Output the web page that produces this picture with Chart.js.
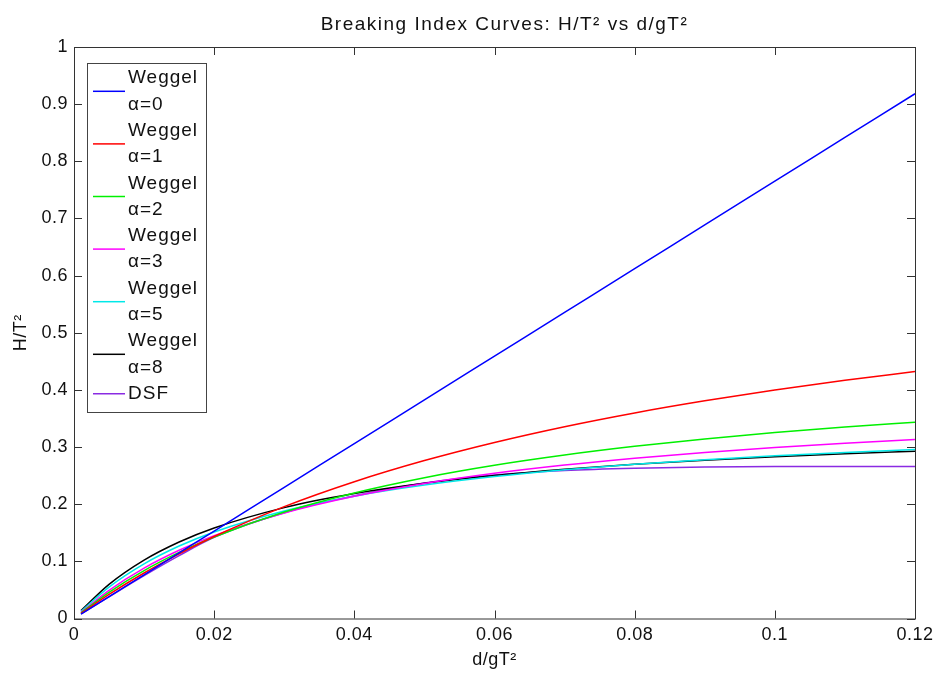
<!DOCTYPE html>
<html>
<head>
<meta charset="utf-8">
<script src="https://cdn.jsdelivr.net/npm/chart.js@4/dist/chart.umd.min.js"></script>
<style>
  html, body { margin: 0; padding: 0; background: #fff; }
  #wrap { width: 940px; height: 681px; }
</style>
</head>
<body>
<div id="wrap"><canvas id="breakChart" width="940" height="681"></canvas></div>
<script>
// data
const depth = [0.001, 0.005, 0.01, 0.015, 0.02, 0.03, 0.04, 0.05, 0.06, 0.07, 0.08, 0.09, 0.10, 0.11, 0.12];

const weggel0 = [0.0077, 0.0383, 0.0765, 0.1148, 0.153, 0.2296, 0.306, 0.3826, 0.4591, 0.5356, 0.6121, 0.6887, 0.7652, 0.8417, 0.9182];
const weggel1 = [0.0088, 0.0421, 0.0796, 0.1131, 0.1434, 0.1957, 0.2393, 0.2763, 0.308, 0.3356, 0.3597, 0.3809, 0.3999, 0.4168, 0.4321];
const weggel2 = [0.0100, 0.0459, 0.0838, 0.1156, 0.1426, 0.1862, 0.2197, 0.2464, 0.2681, 0.286, 0.3012, 0.3141, 0.3253, 0.335, 0.3436];
const weggel3 = [0.0110, 0.0494, 0.0882, 0.1194, 0.145, 0.1846, 0.2139, 0.2363, 0.2541, 0.2685, 0.2805, 0.2905, 0.2991, 0.3065, 0.313];
const weggel5 = [0.0125, 0.055, 0.0956, 0.1268, 0.1515, 0.1882, 0.2141, 0.2334, 0.2483, 0.2602, 0.2699, 0.2779, 0.2847, 0.2905, 0.2955];
const weggel8 = [0.0138, 0.0597, 0.1021, 0.1338, 0.1584, 0.194, 0.2186, 0.2366, 0.2503, 0.2612, 0.2699, 0.2771, 0.2832, 0.2884, 0.2928];
const dsf     = [0.008, 0.038, 0.075, 0.11, 0.142, 0.185, 0.215, 0.237, 0.251, 0.259, 0.263, 0.265, 0.266, 0.266, 0.266];

const labels = ["Weggel\nα=0", "Weggel\nα=1", "Weggel\nα=2", "Weggel\nα=3", "Weggel\nα=5", "Weggel\nα=8", "DSF"];
const colors = ["#0000ff", "#ff0000", "#00f000", "#ff00ff", "#00e8e8", "#000000", "#8a2be2"];
const series = [weggel0, weggel1, weggel2, weggel3, weggel5, weggel8, dsf];

const xTicks = [0, 0.02, 0.04, 0.06, 0.08, 0.1, 0.12];

const titleText = "Breaking Index Curves: H/T² vs d/gT²";

const FONT = "'Liberation Sans', Arial, sans-serif";

function fmt(v) {
  return String(parseFloat(Number(v).toFixed(3)));
}

// slightly wider text like the matlab render
const spacingPlugin = {
  id: "spacing",
  beforeDraw(chart) { chart.ctx.letterSpacing = "0.5px"; },
  afterDraw(chart) { chart.ctx.letterSpacing = "0px"; },
};

// axes box + inward ticks like matlab, and the title over the axes
const boxPlugin = {
  id: "box",
  afterDraw(chart) {
    const { ctx, chartArea: a, scales } = chart;
    ctx.save();
    ctx.strokeStyle = "#333";
    ctx.lineWidth = 1;
    ctx.strokeRect(a.left + 0.5, a.top + 0.5, a.right - a.left, a.bottom - a.top);
    ctx.beginPath();
    scales.x.ticks.forEach((t) => {
      const px = Math.round(scales.x.getPixelForValue(t.value)) + 0.5;
      ctx.moveTo(px, a.bottom); ctx.lineTo(px, a.bottom - 8);
      ctx.moveTo(px, a.top); ctx.lineTo(px, a.top + 8);
    });
    scales.y.ticks.forEach((t) => {
      const py = Math.round(scales.y.getPixelForValue(t.value)) + 0.5;
      ctx.moveTo(a.left, py); ctx.lineTo(a.left + 8, py);
      ctx.moveTo(a.right, py); ctx.lineTo(a.right - 8, py);
    });
    ctx.stroke();

    ctx.letterSpacing = "1.5px";
    ctx.font = "19px " + FONT;
    ctx.fillStyle = "#111";
    ctx.textAlign = "center";
    ctx.textBaseline = "middle";
    ctx.fillText(titleText, (a.left + a.right) / 2 + 10, 25);
    ctx.restore();
  },
};

// legend with two-line labels
const legendPlugin = {
  id: "multiLegend",
  afterDraw(chart) {
    const { ctx } = chart;
    const x0 = 87, y0 = 63, w = 119, h = 349;
    const lineH = 26.3;
    ctx.save();
    ctx.fillStyle = "#fff";
    ctx.fillRect(x0, y0, w, h);
    ctx.strokeStyle = "#444";
    ctx.lineWidth = 1;
    ctx.strokeRect(x0 + 0.5, y0 + 0.5, w, h);
    ctx.font = "19px " + FONT;
    ctx.letterSpacing = "1px";
    ctx.textBaseline = "middle";
    ctx.fillStyle = "#111";
    let y = y0 + 2;
    chart.data.datasets.forEach((ds) => {
      const lines = ds.label.split("\n");
      const mid = y + (lines.length * lineH) / 2;
      ctx.strokeStyle = ds.borderColor;
      ctx.lineWidth = 1.5;
      ctx.beginPath();
      ctx.moveTo(93, mid); ctx.lineTo(125, mid);
      ctx.stroke();
      lines.forEach((ln, i) => {
        ctx.fillText(ln, 128, y + lineH * i + lineH / 2);
      });
      y += lines.length * lineH;
    });
    ctx.restore();
  },
};

const datasets = series.map((vals, i) => ({
  label: labels[i],
  data: depth.map((d, j) => ({ x: d, y: vals[j] })),
  borderColor: colors[i],
  backgroundColor: colors[i],
  borderWidth: 1.5,
  pointRadius: 0,
  cubicInterpolationMode: "monotone",
  fill: false,
}));

new Chart(document.getElementById("breakChart"), {
  type: "line",
  data: { datasets },
  options: {
    responsive: false,
    animation: false,
    layout: { padding: { left: 0, right: 25, top: 47, bottom: 0 } },
    plugins: {
      legend: { display: false },
      tooltip: { enabled: false },
      title: { display: false },
    },
    scales: {
      x: {
        type: "linear",
        min: 0,
        max: 0.12,
        afterBuildTicks: (s) => { s.ticks = xTicks.map((v) => ({ value: v })); },
        afterFit: (s) => { s.height = 62.5; },
        grid: { display: false, drawTicks: false },
        border: { display: false },
        ticks: {
          color: "#111",
          padding: 6,
          maxRotation: 0,
          font: { family: FONT, size: 18 },
          callback: (v) => fmt(v),
        },
        title: {
          display: true,
          text: "d/gT²",
          color: "#111",
          font: { family: FONT, size: 18 },
          padding: { top: 0, bottom: 10 },
        },
      },
      y: {
        min: 0,
        max: 1,
        afterFit: (s) => { s.width = 74; },
        grid: { display: false, drawTicks: false },
        border: { display: false },
        ticks: {
          stepSize: 0.1,
          color: "#111",
          padding: 6,
          font: { family: FONT, size: 18 },
          callback: (v) => fmt(v),
        },
        title: {
          display: true,
          text: "H/T²",
          color: "#111",
          font: { family: FONT, size: 18 },
          padding: { top: 10, bottom: 0 },
        },
      },
    },
  },
  plugins: [spacingPlugin, boxPlugin, legendPlugin],
});
</script>
</body>
</html>
